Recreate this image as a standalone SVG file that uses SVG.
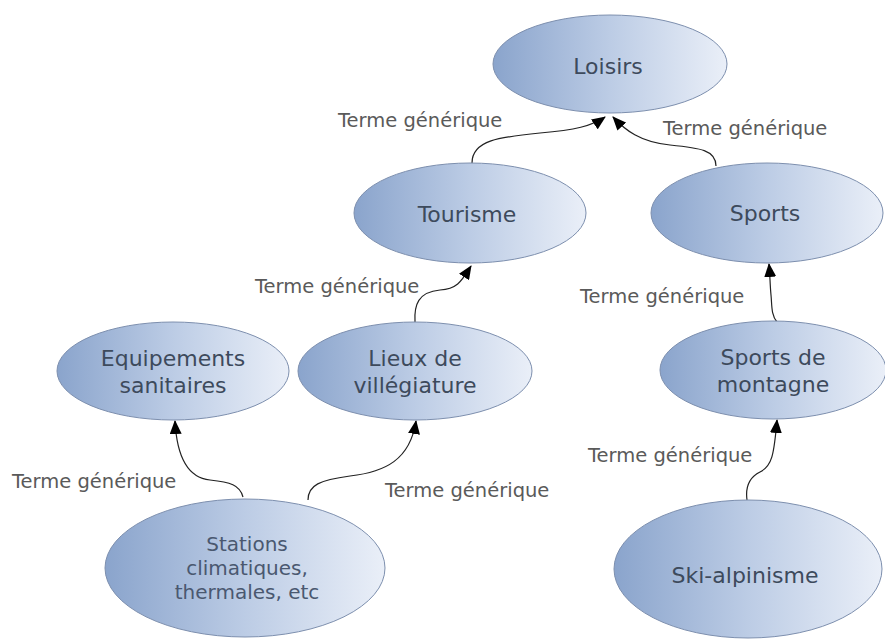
<svg xmlns="http://www.w3.org/2000/svg" width="885" height="639" viewBox="0 0 885 639">
<defs>
<linearGradient id="fillGrad" x1="0" y1="0" x2="1" y2="0">
<stop offset="0" stop-color="#8aa4cc"/>
<stop offset="0.5" stop-color="#bccce5"/>
<stop offset="1" stop-color="#eaeff8"/>
</linearGradient>
<marker id="arrow" viewBox="0 0 14 12" refX="13" refY="6" markerWidth="14" markerHeight="12" markerUnits="userSpaceOnUse" orient="auto">
<path d="M0,0 L14,6 L0,12 Z" fill="#000"/>
</marker>
</defs>
<style>
.node ellipse{fill:url(#fillGrad);stroke:#7d8fae;stroke-width:1}
.node text{font-family:"DejaVu Sans",Verdana,sans-serif;font-size:22px;fill:#3d4a5c;text-anchor:middle}
.node text.small{font-size:20px;fill:#4a5870}
.edge{fill:none;stroke:#222;stroke-width:1.2;marker-end:url(#arrow)}
.lbl{font-family:"DejaVu Sans",Verdana,sans-serif;font-size:19.5px;fill:#5a5a5a}
</style>
<rect width="885" height="639" fill="#fff"/>
<g id="connectors">
<path class="edge" d="M472,163 C472,140 500,137 540,133 C575,130 592,126 605,117"/>
<path class="edge" d="M716,166 C716,150 700,148 670,145 C640,142 625,130 613,117"/>
<path class="edge" d="M415,322 C414,305 418,292 440,290 C458,289 462,280 471,266"/>
<path class="edge" d="M777,322 C771,315 772,305 771,295 C770,285 770,275 769,264"/>
<path class="edge" d="M243,497 C240,485 230,482 210,480 C190,478 177,460 175,421"/>
<path class="edge" d="M308,500 C308,485 320,480 350,476 C385,472 410,460 416,421"/>
<path class="edge" d="M747,500 C745,485 750,477 760,472 C772,466 774,455 777,420"/>
<text class="lbl" x="338" y="127">Terme générique</text>
<text class="lbl" x="663" y="135">Terme générique</text>
<text class="lbl" x="255" y="293">Terme générique</text>
<text class="lbl" x="580" y="303">Terme générique</text>
<text class="lbl" x="12" y="488">Terme générique</text>
<text class="lbl" x="385" y="497">Terme générique</text>
<text class="lbl" x="588" y="462">Terme générique</text>
</g>
<g id="loisirs" class="node"><ellipse cx="610" cy="64" rx="117" ry="49"/><text x="608" y="74">Loisirs</text></g>
<g id="tourisme" class="node"><ellipse cx="470" cy="213" rx="116" ry="50"/><text x="467" y="222">Tourisme</text></g>
<g id="sports" class="node"><ellipse cx="767" cy="213" rx="116" ry="50"/><text x="765" y="221">Sports</text></g>
<g id="equipements" class="node"><ellipse cx="173" cy="371" rx="116" ry="49"/><text x="173" y="366">Equipements</text><text x="173" y="393">sanitaires</text></g>
<g id="lieux" class="node"><ellipse cx="415" cy="371" rx="117" ry="49"/><text x="415" y="366">Lieux de</text><text x="415" y="393">villégiature</text></g>
<g id="sports-montagne" class="node"><ellipse cx="773" cy="370" rx="113" ry="49"/><text x="773" y="365">Sports de</text><text x="773" y="392">montagne</text></g>
<g id="stations" class="node"><ellipse cx="245" cy="568" rx="140" ry="69"/><text class="small" x="247" y="551">Stations</text><text class="small" x="247" y="575">climatiques,</text><text class="small" x="247" y="599">thermales, etc</text></g>
<g id="ski-alpinisme" class="node"><ellipse cx="748" cy="569" rx="134" ry="69"/><text x="745" y="583">Ski-alpinisme</text></g>
</svg>
